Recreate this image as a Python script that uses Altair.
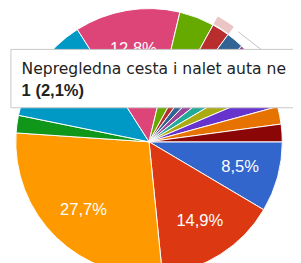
import math
import altair as alt
import pandas as pd

# Slices in Google Forms order (clockwise, starting at 3 o'clock)
slice_ids = [f"Odgovor {i}" for i in range(1, 17)]
counts = [4, 7, 13, 1, 0, 6, 6, 2, 1, 1, 1, 1, 1, 1, 1, 1]
colors = ["#3366cc", "#dc3912", "#ff9900", "#109618", "#990099", "#0099c6",
          "#dd4477", "#66aa00", "#b82e2e", "#316395", "#994499", "#22aa99",
          "#aaaa11", "#6633cc", "#e67300", "#8b0707"]
# slice labels that are visible (the cyan one is hidden behind the tooltip)
shown_label = [True, True, True, False, False, False,
               True, False, False, False, False, False,
               False, False, False, False]
hover_index = 8
tooltip_title = "Nepregledna cesta i nalet auta ne"

total = sum(counts)
labels = [f"{c * 100 / total:.1f}".replace(".", ",") + "%" for c in counts]

df = pd.DataFrame({
    "order": list(range(len(counts))),
    "cat": slice_ids,
    "count": counts,
    "color": colors,
    "label": labels,
    "shown": shown_label,
})

W, H = 293, 255
CX, CY = 145, 134
R = 137
start = math.pi / 2
theta_scale = alt.Scale(domain=[0, total], range=[start, start + 2 * math.pi])

base = alt.Chart(df).transform_window(
    cum="sum(count)", sort=[alt.SortField("order")], frame=[None, 0]
).transform_calculate(
    start="datum.cum - datum.count",
    mid="datum.cum - datum.count / 2",
)

arcs = base.transform_filter("datum.count > 0").mark_arc(
    radius=R, stroke="#ffffff", strokeWidth=1
).encode(
    theta=alt.Theta("start:Q", scale=theta_scale),
    theta2="cum:Q",
    color=alt.Color("color:N", scale=None),
    x=alt.value(CX), y=alt.value(CY),
)

ring = base.transform_filter(f"datum.order == {hover_index}").mark_arc(
    radius=R + 10, radius2=R + 1, opacity=0.28, color="#b82e2e"
).encode(
    theta=alt.Theta("start:Q", scale=theta_scale),
    theta2="cum:Q",
    x=alt.value(CX), y=alt.value(CY),
)

slice_labels = base.transform_filter("datum.shown").mark_text(
    radius=97, fontSize=17, color="#ffffff", font="Liberation Sans"
).encode(
    theta=alt.Theta("mid:Q", scale=theta_scale),
    text="label:N",
    x=alt.value(CX), y=alt.value(CY),
)

tip_df = pd.DataFrame({
    "title": [tooltip_title],
    "value": [f"{counts[hover_index]} ({labels[hover_index][:-1]}%)"],
})
tip = alt.Chart(tip_df)

tip_box = tip.mark_rect(fill="#ffffff", stroke="#c6c6c6", strokeWidth=1).encode(
    x=alt.value(3), x2=alt.value(330), y=alt.value(39), y2=alt.value(99)
)
tip_line = tip.mark_rule(color="#c0c0c0", strokeWidth=1).encode(
    x=alt.value(237), y=alt.value(21), x2=alt.value(260), y2=alt.value(39)
)
tip_title = tip.mark_text(
    align="left", baseline="alphabetic", fontSize=16, color="#222222",
    font="DejaVu Sans"
).encode(x=alt.value(14), y=alt.value(64), text="title:N")
tip_value = tip.mark_text(
    align="left", baseline="alphabetic", fontSize=17, color="#222222",
    font="Liberation Sans", fontWeight="bold"
).encode(x=alt.value(14), y=alt.value(87), text="value:N")

chart = alt.layer(
    arcs, ring, slice_labels, tip_box, tip_line, tip_title, tip_value
).properties(
    width=W, height=H, autosize="none", padding=0
).configure_view(strokeWidth=0)

chart.save("out.html", embed_options={"renderer": "svg", "actions": False})
